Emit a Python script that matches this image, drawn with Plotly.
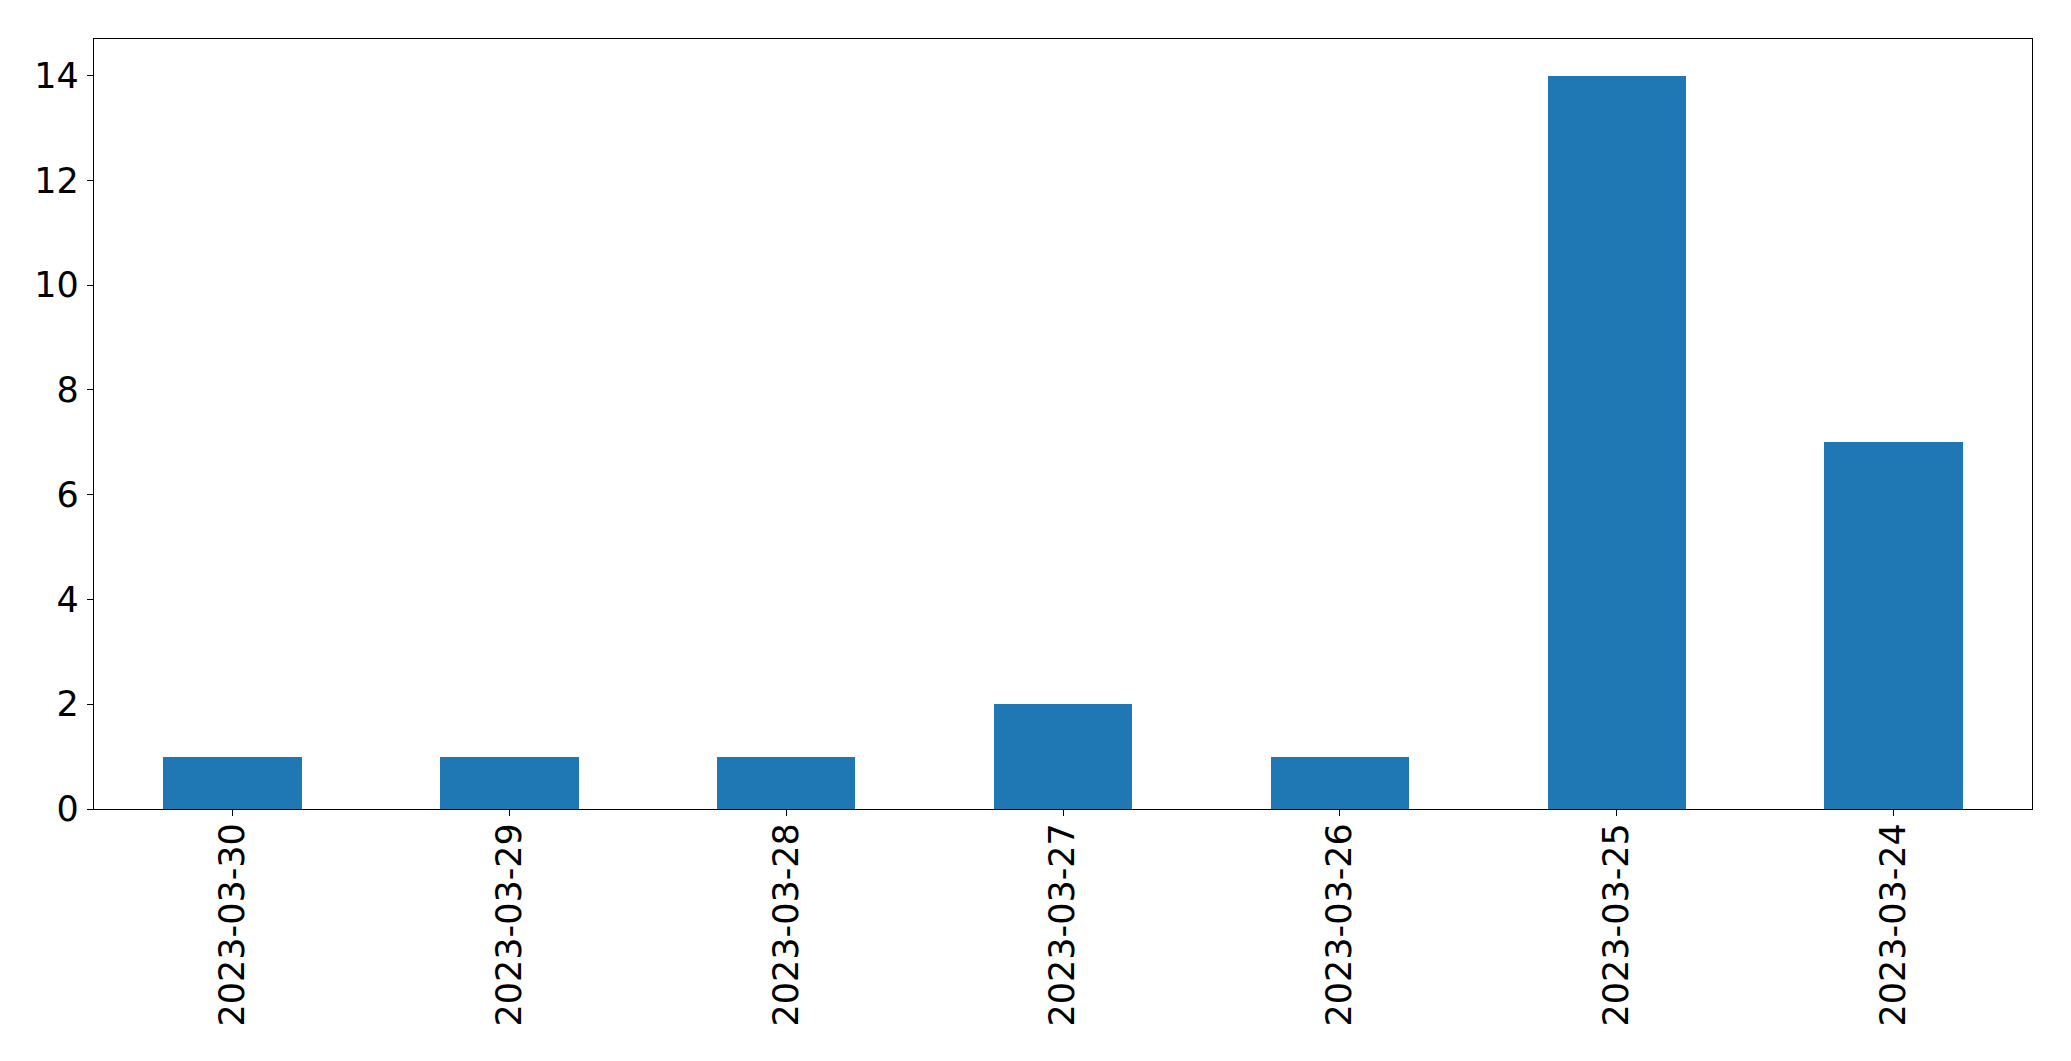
import plotly.graph_objects as go

dates = ["2023-03-30", "2023-03-29", "2023-03-28", "2023-03-27",
         "2023-03-26", "2023-03-25", "2023-03-24"]
counts = [1, 1, 1, 2, 1, 14, 7]
y_ticks = [0, 2, 4, 6, 8, 10, 12, 14]

fig = go.Figure(go.Bar(x=dates, y=counts, width=0.5, marker=dict(color="#1f77b4", line=dict(width=0))))

fig.update_layout(
    width=2055, height=1045,
    margin=dict(l=86, r=31, t=31, b=244, pad=0),
    paper_bgcolor="white", plot_bgcolor="white",
    font=dict(family="DejaVu Sans", size=35, color="black"),
    showlegend=False,
    bargap=0,
)
fig.update_xaxes(type="category", range=[-0.5, 6.5], tickangle=-90,
                 showline=True, linecolor="black", linewidth=1.3, mirror=True,
                 ticks="outside", ticklen=6, tickwidth=1.3, tickcolor="black",
                 showgrid=False, zeroline=False, ticklabelstandoff=-7)
fig.update_yaxes(range=[0, 14.7], tickvals=y_ticks,
                 showline=True, linecolor="black", linewidth=1.3, mirror=True,
                 ticks="outside", ticklen=6, tickwidth=1.3, tickcolor="black",
                 showgrid=False, zeroline=False, ticklabelstandoff=1)

fig.write_html("out.html")
